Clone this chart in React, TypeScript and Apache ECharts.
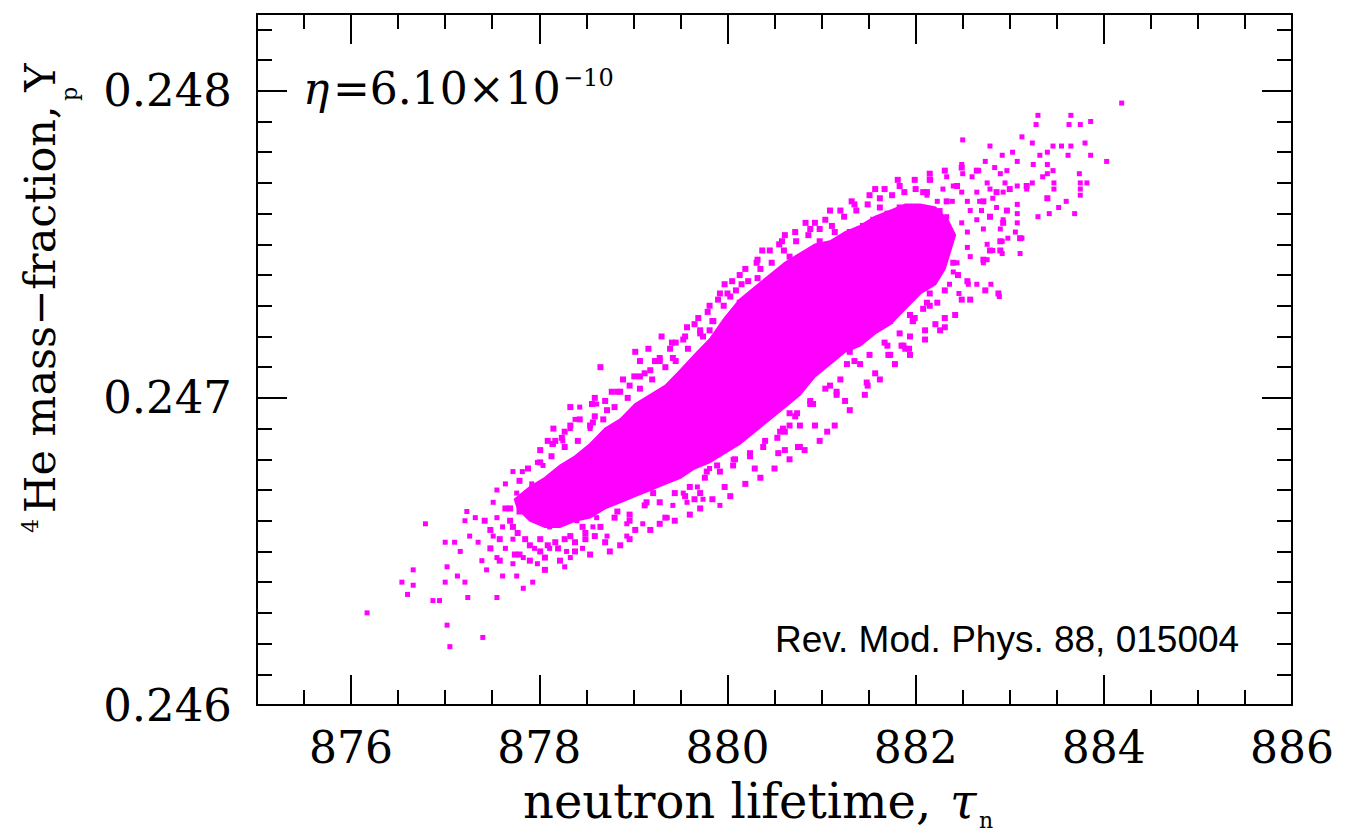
import React, { useEffect, useRef } from 'react';
import * as echarts from 'echarts';

// Axis ranges and ticks
const X_MIN = 875;
const X_MAX = 886;
const Y_MIN = 0.246;
const Y_MAX = 0.24825;
const xMajorTicks = [876, 878, 880, 882, 884, 886];
const yMajorTicks = [0.246, 0.247, 0.248];
const X_MINOR_STEP = 0.5;
const Y_MINOR_STEP = 0.0001;

// Saturated core of the Monte-Carlo cloud: upper edge left->right, lower edge right->left
const coreUpper = [
  [877.74, 0.24667], [877.9, 0.24671], [878.06, 0.24674], [878.22, 0.24678], [878.38, 0.24681],
  [878.54, 0.24685], [878.7, 0.2469], [878.86, 0.24693], [879.02, 0.24698], [879.18, 0.24701],
  [879.34, 0.24704], [879.5, 0.24709], [879.65, 0.24714], [879.81, 0.24719], [879.97, 0.24726],
  [880.13, 0.24732], [880.29, 0.24736], [880.45, 0.2474], [880.61, 0.24744], [880.77, 0.24747],
  [880.93, 0.2475], [881.09, 0.24751], [881.25, 0.24754], [881.41, 0.24756], [881.57, 0.24759],
  [881.73, 0.24761], [881.89, 0.24763], [882.05, 0.24763], [882.21, 0.24762], [882.34, 0.24758],
  [882.42, 0.24753],
];
const coreLower = [
  [882.31, 0.24742], [882.21, 0.24737], [882.05, 0.24734], [881.89, 0.24729], [881.73, 0.24724],
  [881.57, 0.24721], [881.41, 0.24717], [881.25, 0.24715], [881.09, 0.24711], [880.93, 0.24707],
  [880.77, 0.24701], [880.61, 0.24697], [880.45, 0.24693], [880.29, 0.24689], [880.13, 0.24685],
  [879.97, 0.24682], [879.81, 0.24679], [879.65, 0.24677], [879.5, 0.24674], [879.34, 0.24672],
  [879.18, 0.2467], [879.02, 0.24668], [878.86, 0.24666], [878.7, 0.24664], [878.54, 0.24661],
  [878.38, 0.2466], [878.22, 0.24658], [878.06, 0.24658], [877.9, 0.2466], [877.77, 0.24664],
];

// Individual scattered points, lower-left tail
const lowerTailPoints = [
  [876.17, 0.2463], [876.79, 0.24659], [876.66, 0.24644], [876.54, 0.2464], [876.6, 0.24636],
  [876.66, 0.24639], [876.87, 0.24634], [876.94, 0.24634], [877.02, 0.24626], [877.05, 0.24619],
  [877.4, 0.24622], [877.0, 0.24653], [877.1, 0.24653], [877.02, 0.24645], [877.0, 0.2464],
  [877.13, 0.24642], [877.21, 0.2464], [877.23, 0.24663], [877.32, 0.24661], [877.21, 0.2466],
  [877.26, 0.24655], [877.16, 0.2465], [877.24, 0.24635], [877.35, 0.24653], [877.39, 0.24647],
  [877.44, 0.24644], [877.55, 0.24635], [877.51, 0.24655], [877.55, 0.24648], [877.61, 0.24642],
  [877.64, 0.24651], [877.72, 0.24646], [877.76, 0.24642], [877.83, 0.24638], [877.93, 0.2464],
  [877.72, 0.24654], [877.83, 0.24648], [877.98, 0.24646], [877.95, 0.24651], [878.11, 0.24651],
  [878.27, 0.24645], [878.33, 0.24648], [877.55, 0.2467], [877.64, 0.24672], [877.72, 0.24676],
  [877.82, 0.24676], [877.51, 0.24666], [877.55, 0.24661], [877.61, 0.24658], [877.76, 0.24669],
  [877.83, 0.24664], [877.92, 0.24672], [877.98, 0.24679], [878.04, 0.24678], [878.11, 0.2467],
  [878.15, 0.24685], [878.25, 0.24686], [878.33, 0.2469], [878.38, 0.24693], [878.43, 0.24697],
  [878.61, 0.24698], [878.54, 0.2469], [878.72, 0.24689], [878.83, 0.24685], [878.57, 0.24658],
  [878.72, 0.24655], [878.93, 0.24659], [879.1, 0.24659], [878.93, 0.24655], [879.36, 0.24661],
  [879.42, 0.24665], [879.57, 0.24666], [879.68, 0.24671], [879.74, 0.24667], [879.92, 0.24665],
  [879.53, 0.24669], [879.81, 0.24677], [880.06, 0.2468], [880.13, 0.24689], [880.03, 0.24685],
  [878.46, 0.24651], [878.29, 0.2465], [878.11, 0.24658], [878.22, 0.24664], [878.4, 0.2466],
  [878.61, 0.24661],
];

// Points along the lower edge of the core
const lowerEdgePoints = [
  [879.71, 0.24669], [879.55, 0.24668], [880.06, 0.24678], [880.24, 0.24681], [880.38, 0.24684],
  [880.54, 0.24682], [880.61, 0.24689], [880.75, 0.24684], [880.66, 0.24691], [880.74, 0.24695],
  [880.53, 0.24687], [879.89, 0.24678], [879.78, 0.24676], [879.14, 0.24666], [878.96, 0.2466],
  [878.83, 0.24663], [879.1, 0.24671], [879.21, 0.24669], [878.65, 0.24668], [878.57, 0.24663],
  [878.46, 0.24658], [878.29, 0.2466], [878.11, 0.24663], [877.93, 0.24664], [877.79, 0.24663],
  [877.72, 0.24658], [878.01, 0.24671], [877.87, 0.24669], [878.15, 0.24673], [878.29, 0.24669],
  [878.4, 0.24664], [877.69, 0.24664], [881.49, 0.24704], [881.27, 0.24711], [881.41, 0.24711],
  [881.16, 0.24701], [881.06, 0.24689], [880.77, 0.24684], [880.91, 0.24698], [880.77, 0.24691],
  [881.73, 0.24714], [881.7, 0.24717], [881.93, 0.24716], [881.85, 0.24717], [882.1, 0.24722],
  [881.97, 0.24725], [881.94, 0.24727], [882.08, 0.24729], [882.12, 0.24731], [882.23, 0.24731],
  [882.31, 0.24723], [882.31, 0.24726], [881.94, 0.2472], [881.73, 0.24725], [881.87, 0.24717],
  [881.71, 0.24714], [881.48, 0.24705], [881.3, 0.24715], [881.16, 0.24702], [881.09, 0.24704],
  [880.88, 0.24699], [880.66, 0.24695], [880.59, 0.2469],
  [878.01, 0.24654], [878.17, 0.24653], [878.33, 0.24655], [878.49, 0.24656], [878.65, 0.24658],
  [878.8, 0.24661], [878.96, 0.24662], [879.12, 0.24665], [879.28, 0.24666], [879.44, 0.24669],
  [879.6, 0.24671], [879.76, 0.24674], [879.92, 0.24676], [880.08, 0.2468], [880.24, 0.24682],
  [880.4, 0.24686], [880.56, 0.24689], [880.72, 0.24694], [880.88, 0.24698], [881.04, 0.24703],
  [881.2, 0.24706], [881.35, 0.24712], [881.51, 0.24714], [881.67, 0.24718], [881.83, 0.24721],
  [881.99, 0.24726], [882.15, 0.2473], [882.31, 0.24735], [882.45, 0.2474],
  [877.79, 0.24649], [878.06, 0.24648], [878.38, 0.2465], [878.7, 0.24653], [879.02, 0.24657],
  [879.34, 0.24661], [879.65, 0.24667], [879.97, 0.24671], [880.29, 0.24677], [880.61, 0.24683],
  [880.93, 0.24691], [881.25, 0.24699], [881.57, 0.24708], [881.89, 0.24716], [882.21, 0.24724],
  [882.49, 0.24732],
  [877.42, 0.2466], [877.48, 0.24657], [877.58, 0.24654], [877.64, 0.24664], [877.69, 0.2466],
  [877.77, 0.24656], [877.85, 0.24654], [877.9, 0.24652], [878.01, 0.2465], [878.09, 0.24652],
  [878.2, 0.24651], [878.27, 0.24654], [878.38, 0.24653], [878.49, 0.24654], [878.59, 0.24655],
  [877.48, 0.24651], [877.58, 0.24647], [877.74, 0.24649], [877.9, 0.24647], [878.06, 0.24644],
  [878.22, 0.24647], [878.54, 0.24649], [878.75, 0.2465], [878.86, 0.24652], [878.96, 0.24654],
  [879.18, 0.24657], [879.28, 0.24659], [879.44, 0.2466], [879.6, 0.24662], [879.71, 0.24664],
  [879.84, 0.24667], [880.03, 0.24668], [880.19, 0.24672], [880.35, 0.24674], [880.5, 0.24677],
  [880.66, 0.2468], [880.82, 0.24683], [880.98, 0.24686], [881.14, 0.24691], [881.3, 0.24696],
  [881.46, 0.24701], [881.62, 0.24706], [881.78, 0.24711], [881.94, 0.24714], [882.1, 0.24719],
  [882.26, 0.24722], [882.42, 0.24727], [882.58, 0.24732], [882.74, 0.24735],
];

// Points along the upper edge of the core
const upperEdgePoints = [
  [878.65, 0.2471], [879.02, 0.24715], [879.07, 0.24712], [879.16, 0.24716], [879.3, 0.2472],
  [879.41, 0.24718], [879.28, 0.24713], [879.18, 0.24709], [878.89, 0.24706], [878.59, 0.247],
  [878.33, 0.24697], [878.15, 0.2469], [878.24, 0.24687], [878.14, 0.24685], [879.53, 0.24719],
  [879.57, 0.24723], [879.71, 0.24722], [879.85, 0.24725], [879.81, 0.2473], [880.0, 0.24734],
  [879.42, 0.24713], [878.72, 0.24696], [878.57, 0.24692], [878.83, 0.24702], [879.07, 0.24707],
  [879.97, 0.24737], [880.15, 0.24737], [880.32, 0.24745], [880.55, 0.2475], [880.93, 0.24757],
  [881.14, 0.24754], [880.98, 0.24751], [881.55, 0.24758], [881.62, 0.24762], [881.83, 0.24762],
  [882.12, 0.24767], [882.15, 0.24771], [882.49, 0.24775], [882.65, 0.24774], [880.32, 0.24739],
  [880.42, 0.24738], [880.56, 0.24736], [880.66, 0.24746], [880.77, 0.24745], [880.88, 0.24747],
  [880.66, 0.24742], [880.03, 0.24733], [879.81, 0.24722], [879.74, 0.2472], [880.13, 0.24731],
  [881.3, 0.24754], [881.44, 0.24756], [881.7, 0.2476], [881.91, 0.24759], [882.08, 0.24767],
  [882.33, 0.24764], [882.44, 0.24769], [882.72, 0.24764], [882.86, 0.24767], [883.0, 0.24768],
  [883.18, 0.24769], [883.4, 0.24765], [882.97, 0.24761], [882.79, 0.24759], [882.93, 0.24757],
  [883.11, 0.24752], [882.9, 0.24751], [882.79, 0.24748], [882.9, 0.24748], [882.72, 0.24745],
  [882.55, 0.24738], [882.88, 0.24734], [882.4, 0.24744], [882.23, 0.24741], [882.15, 0.24734],
  [881.97, 0.24725],
  [878.01, 0.24679], [878.13, 0.24681], [878.27, 0.24684], [878.41, 0.24686], [878.54, 0.24691],
  [878.68, 0.24693], [878.8, 0.24697], [878.94, 0.247], [879.07, 0.24703], [879.2, 0.24706],
  [879.34, 0.2471], [879.45, 0.24712], [879.58, 0.24716], [879.71, 0.24721], [879.84, 0.24725],
  [879.96, 0.2473], [880.09, 0.24735], [880.22, 0.24738], [880.35, 0.24742], [880.47, 0.24744],
  [880.6, 0.24748], [880.73, 0.24751], [880.86, 0.24753], [880.98, 0.24755], [881.11, 0.24756],
  [881.24, 0.24759], [881.37, 0.24761], [881.49, 0.24763], [881.62, 0.24765], [881.75, 0.24766],
  [881.88, 0.24767], [882.0, 0.24768],
  [878.09, 0.24686], [878.33, 0.24691], [878.56, 0.24698], [878.77, 0.24702], [879.01, 0.24707],
  [879.23, 0.24712], [879.45, 0.24718], [879.69, 0.24726], [879.9, 0.24732], [880.13, 0.2474],
  [880.37, 0.24748], [880.61, 0.24753], [880.83, 0.24757], [881.09, 0.24761], [881.32, 0.24764],
  [881.57, 0.24768], [881.81, 0.24771],
  [877.79, 0.24673], [877.88, 0.24677], [878.01, 0.24683], [878.17, 0.24686], [878.27, 0.24689],
  [878.43, 0.24693], [878.59, 0.24694], [878.7, 0.24699], [878.86, 0.24702], [878.96, 0.24704],
  [879.12, 0.24708], [879.28, 0.24712], [879.39, 0.24716], [879.55, 0.2472], [879.65, 0.24724],
  [879.79, 0.24728], [879.92, 0.24734], [880.05, 0.24738], [880.19, 0.24742], [880.31, 0.24744],
  [880.45, 0.24748], [880.58, 0.24751], [880.72, 0.24754], [880.88, 0.24755], [881.04, 0.24758],
  [881.2, 0.24761], [881.35, 0.24763], [881.51, 0.24766], [881.67, 0.24768], [881.83, 0.24769],
  [881.99, 0.24771], [882.15, 0.24773], [882.31, 0.24774],
];

// Upper-right tail
const upperTailPoints = [
  [884.19, 0.24796], [883.3, 0.24792], [883.65, 0.24792], [883.28, 0.24789], [883.63, 0.24789],
  [883.75, 0.24789], [883.86, 0.2479], [883.13, 0.24785], [882.5, 0.24784], [883.24, 0.24783],
  [882.79, 0.24782], [883.46, 0.24782], [883.55, 0.24782], [883.65, 0.24782], [883.8, 0.24783],
  [883.03, 0.2478], [882.92, 0.24779], [883.08, 0.24777], [883.32, 0.24779], [883.4, 0.2478],
  [883.62, 0.24779], [883.86, 0.24779], [884.03, 0.24777], [883.25, 0.24776], [883.4, 0.24776],
  [882.74, 0.24777], [882.49, 0.24776], [882.84, 0.24775], [882.67, 0.24774], [882.5, 0.24773],
  [882.9, 0.24773], [882.97, 0.24774], [883.46, 0.24774], [883.4, 0.24773], [883.74, 0.24773],
  [882.33, 0.24772], [882.16, 0.24771], [882.6, 0.24772], [882.76, 0.2477], [882.95, 0.2477],
  [883.08, 0.24769], [883.24, 0.2477], [883.35, 0.24772], [883.47, 0.2477], [883.75, 0.2477],
  [883.82, 0.2477], [882.29, 0.24768], [882.4, 0.24769], [882.49, 0.24767], [882.65, 0.24767],
  [882.79, 0.24768], [883.18, 0.24768], [883.47, 0.24768], [883.75, 0.24768], [883.75, 0.24766],
  [882.12, 0.24766], [882.23, 0.24764], [882.39, 0.24764], [882.55, 0.24764], [882.68, 0.24764],
  [882.82, 0.24765], [882.93, 0.24767], [883.08, 0.24763], [883.4, 0.24765], [883.6, 0.24764],
  [883.52, 0.24762], [882.05, 0.24762], [882.26, 0.24761], [882.58, 0.24761], [882.7, 0.24761],
  [882.86, 0.24762], [883.08, 0.2476], [883.42, 0.2476], [883.69, 0.2476], [883.3, 0.24759],
  [881.94, 0.24758], [882.18, 0.24758], [882.33, 0.24759], [882.49, 0.24757], [882.65, 0.24758],
  [882.79, 0.24759], [882.93, 0.24758], [883.08, 0.24757], [882.9, 0.24755], [883.06, 0.24754],
  [882.98, 0.24752], [882.92, 0.24751], [883.13, 0.24752], [883.11, 0.24747], [882.55, 0.24754],
  [882.72, 0.24755], [882.26, 0.24754], [882.36, 0.24751], [882.55, 0.24749], [882.76, 0.2475],
  [882.82, 0.24748], [882.92, 0.24747], [882.72, 0.24744], [882.76, 0.24745], [882.15, 0.24747],
  [882.29, 0.24745], [882.44, 0.24744], [882.58, 0.24746], [882.4, 0.24741], [882.56, 0.24737],
  [882.65, 0.24737], [882.8, 0.24737], [882.36, 0.24737], [882.46, 0.24734], [882.89, 0.24733],
  [882.18, 0.24739], [882.05, 0.24735],
];

const MAGENTA = '#ff00ff';
const SERIF = '"DejaVu Serif", serif';

const grid = { left: 257, right: 55, top: 14, bottom: 129 };

const axisLineStyle = { color: '#000', width: 2 };
const tickLineStyle = { color: '#000', width: 2 };

function makeX(position: 'bottom' | 'top', major: boolean, labels: boolean) {
  const a: any = {
    type: 'value',
    gridIndex: 0,
    position,
    min: X_MIN,
    max: X_MAX,
    splitLine: { show: false },
    axisLine: { show: major, onZero: false, lineStyle: axisLineStyle },
    axisTick: major
      ? { show: true, inside: true, length: 30, customValues: xMajorTicks, lineStyle: tickLineStyle }
      : { show: true, inside: true, length: 15, lineStyle: tickLineStyle },
    axisLabel: labels
      ? {
          show: true,
          customValues: xMajorTicks,
          fontFamily: SERIF,
          fontSize: 44,
          color: '#000',
          margin: 20,
          formatter: (v: number) => String(Math.round(v)),
        }
      : { show: false },
  };
  if (!major) a.interval = X_MINOR_STEP;
  return a;
}

function makeY(position: 'left' | 'right', major: boolean, labels: boolean) {
  const a: any = {
    type: 'value',
    gridIndex: 0,
    position,
    min: Y_MIN,
    max: Y_MAX,
    splitLine: { show: false },
    axisLine: { show: major, onZero: false, lineStyle: axisLineStyle },
    axisTick: major
      ? { show: true, inside: true, length: 30, customValues: yMajorTicks, lineStyle: tickLineStyle }
      : { show: true, inside: true, length: 15, lineStyle: tickLineStyle },
    axisLabel: labels
      ? {
          show: true,
          customValues: yMajorTicks,
          fontFamily: SERIF,
          fontSize: 45,
          color: '#000',
          margin: 25,
          formatter: (v: number) => v.toFixed(3),
        }
      : { show: false },
  };
  if (!major) a.interval = Y_MINOR_STEP;
  return a;
}

const textStyle = (size: number, extra: any = {}) => ({
  fontFamily: SERIF,
  fontSize: size,
  fill: '#000',
  align: 'left',
  verticalAlign: 'middle',
  ...extra,
});

const scatter = (d: number[][], size: number) => ({
  type: 'scatter',
  xAxisIndex: 0,
  yAxisIndex: 0,
  symbol: 'rect',
  symbolSize: size,
  silent: true,
  itemStyle: { color: MAGENTA, opacity: 1 },
  data: d,
  z: 3,
});

const option: any = {
  animation: false,
  backgroundColor: '#fff',
  grid,
  xAxis: [makeX('bottom', true, true), makeX('bottom', false, false), makeX('top', true, false), makeX('top', false, false)],
  yAxis: [makeY('left', true, true), makeY('left', false, false), makeY('right', true, false), makeY('right', false, false)],
  series: [
    {
      type: 'custom',
      name: 'core',
      xAxisIndex: 0,
      yAxisIndex: 0,
      silent: true,
      data: [coreUpper[0]],
      renderItem: (_params: any, api: any) => {
        const pts = coreUpper.concat(coreLower).map((p) => api.coord(p));
        return {
          type: 'polygon',
          shape: { points: pts },
          style: { fill: MAGENTA, stroke: MAGENTA, lineWidth: 2 },
        };
      },
      z: 2,
    },
    scatter(lowerTailPoints, 5),
    scatter(lowerEdgePoints, 6),
    scatter(upperEdgePoints, 6),
    scatter(upperTailPoints, 5),
  ],
  graphic: [
    { type: 'text', x: 303, y: 88, style: textStyle(44, { text: 'η', fontStyle: 'italic' }) },
    { type: 'text', x: 333, y: 88, style: textStyle(44, { text: '=6.10×10' }) },
    { type: 'text', x: 563, y: 78, style: textStyle(24, { text: '−10' }) },
    {
      type: 'text',
      x: 775,
      y: 639,
      style: { text: 'Rev. Mod. Phys. 88, 015004', fontFamily: '"Liberation Sans", Arial, sans-serif', fontSize: 37, fill: '#000', align: 'left', verticalAlign: 'middle' },
    },
    { type: 'text', x: 523, y: 801, style: textStyle(48, { text: 'neutron lifetime,' }) },
    { type: 'text', x: 950, y: 801, style: textStyle(48, { text: 'τ', fontStyle: 'italic' }) },
    { type: 'text', x: 979, y: 820, style: textStyle(22, { text: 'n' }) },
    { type: 'text', x: 40, y: 513, rotation: Math.PI / 2, style: textStyle(43, { text: 'He mass−fraction, Y' }) },
    { type: 'text', x: 30, y: 533, rotation: Math.PI / 2, style: textStyle(22, { text: '4' }) },
    { type: 'text', x: 69, y: 101, rotation: Math.PI / 2, style: textStyle(22, { text: 'p' }) },
  ],
};

export default function App() {
  const ref = useRef<HTMLDivElement>(null);
  useEffect(() => {
    const chart = echarts.init(ref.current as HTMLDivElement, null, { renderer: 'svg' });
    chart.setOption(option);
    return () => chart.dispose();
  }, []);
  return (
    <div
      ref={ref}
      style={{ position: 'fixed', left: 0, top: 0, width: 1347, height: 834, background: '#fff' }}
    />
  );
}
